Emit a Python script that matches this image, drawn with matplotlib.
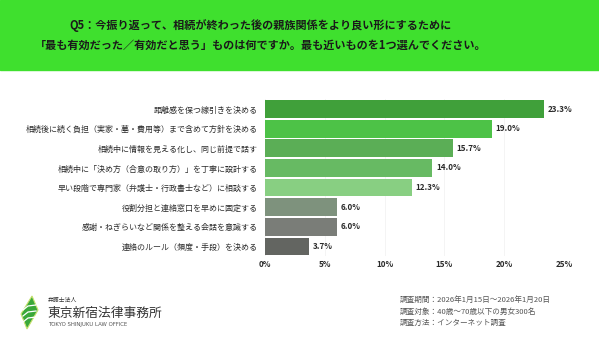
import matplotlib.pyplot as plt
from matplotlib.patches import Rectangle, Polygon

plt.rcParams['font.family'] = ['Noto Sans CJK JP', 'DejaVu Sans']

# データ
labels = [
    "距離感を保つ線引きを決める",
    "相続後に続く負担（実家・墓・費用等）まで含めて方針を決める",
    "相続中に情報を見える化し、同じ前提で話す",
    "相続中に「決め方（合意の取り方）」を丁寧に設計する",
    "早い段階で専門家（弁護士・行政書士など）に相談する",
    "役割分担と連絡窓口を早めに固定する",
    "感謝・ねぎらいなど関係を整える会話を意識する",
    "連絡のルール（頻度・手段）を決める",
]
values = [23.3, 19.0, 15.7, 14.0, 12.3, 6.0, 6.0, 3.7]
colors = ["#40a03a", "#4dc247", "#5bae56", "#67ba63", "#88cf82",
          "#7e927d", "#7a7d78", "#636561"]
ticks = [0, 5, 10, 15, 20, 25]

title1 = "Q5：今振り返って、相続が終わった後の親族関係をより良い形にするために"
title2 = "「最も有効だった／有効だと思う」ものは何ですか。最も近いものを1つ選んでください。"
notes = ["調査期間：2026年1月15日～2026年1月20日",
         "調査対象：40歳～70歳以下の男女300名",
         "調査方法：インターネット調査"]

fig = plt.figure(figsize=(5.99, 3.37), dpi=100)

# ヘッダー
fig.patches.append(Rectangle((0, 1 - 70 / 337), 1, 70 / 337, transform=fig.transFigure,
                             color="#3fe02e", zorder=0))
fig.text(261 / 599, 1 - 26 / 337, title1, ha="center", va="center",
         fontsize=8.0, fontweight="bold", color="#1a1a1a")
fig.text(261 / 599, 1 - 45 / 337, title2, ha="center", va="center",
         fontsize=8.0, fontweight="bold", color="#1a1a1a")

# 棒グラフ
ax = fig.add_axes([265 / 599, 0.2395, (564 - 265) / 599, 0.4661])
y = range(len(values))
ax.barh(y, values, height=0.9, color=colors, zorder=2)
for i, v in enumerate(values):
    ax.text(v + 0.3, i, f"{v:.1f}%", va="center", ha="left", fontsize=5.8,
            color="#2a2a2a", fontweight="bold")
ax.set_ylim(len(values) - 0.5, -0.5)
ax.set_xlim(0, 25)
ax.set_yticks(list(y))
ax.set_yticklabels(labels, fontsize=5.75, color="#2a2a2a")
ax.set_xticks(ticks)
ax.set_xticklabels([f"{t}%" for t in ticks], fontsize=5.8, color="#2a2a2a", fontweight="bold")
ax.tick_params(length=0, pad=3)
ax.tick_params(axis="y", pad=5)
for s in ax.spines.values():
    s.set_visible(False)
ax.grid(axis="x", color="#f2f2f2", linewidth=0.6, zorder=0)

# ロゴ
la = fig.add_axes([0, 0, 1, 1], zorder=-1)
la.set_xlim(0, 599)
la.set_ylim(337, 0)
la.axis("off")
la.add_patch(Polygon([(32, 296), (38, 310), (27, 329), (21, 314)], closed=True,
                     facecolor="#3aa83a", edgecolor="#c9e270", linewidth=0.8))
for k in range(3):
    dy = 6 * k
    la.plot([23, 28, 36], [310 + dy, 306 + dy, 305 + dy], color="white", linewidth=0.9)
fig.text(48 / 599, 1 - 300 / 337, "弁護士法人", fontsize=4.2, color="#333333", va="center")
fig.text(47 / 599, 1 - 313 / 337, "東京新宿法律事務所", fontsize=9.2, color="#333333", va="center")
fig.text(48 / 599, 1 - 324.5 / 337, "TOKYO SHINJUKU LAW OFFICE", fontsize=3.9,
         color="#555555", va="center", family=["DejaVu Sans"])

# 調査概要
for i, n in enumerate(notes):
    fig.text(400 / 599, 1 - (300 + i * 11.5) / 337, n, fontsize=5.5, color="#555555", va="center")

fig.savefig("out.png", dpi=100)
